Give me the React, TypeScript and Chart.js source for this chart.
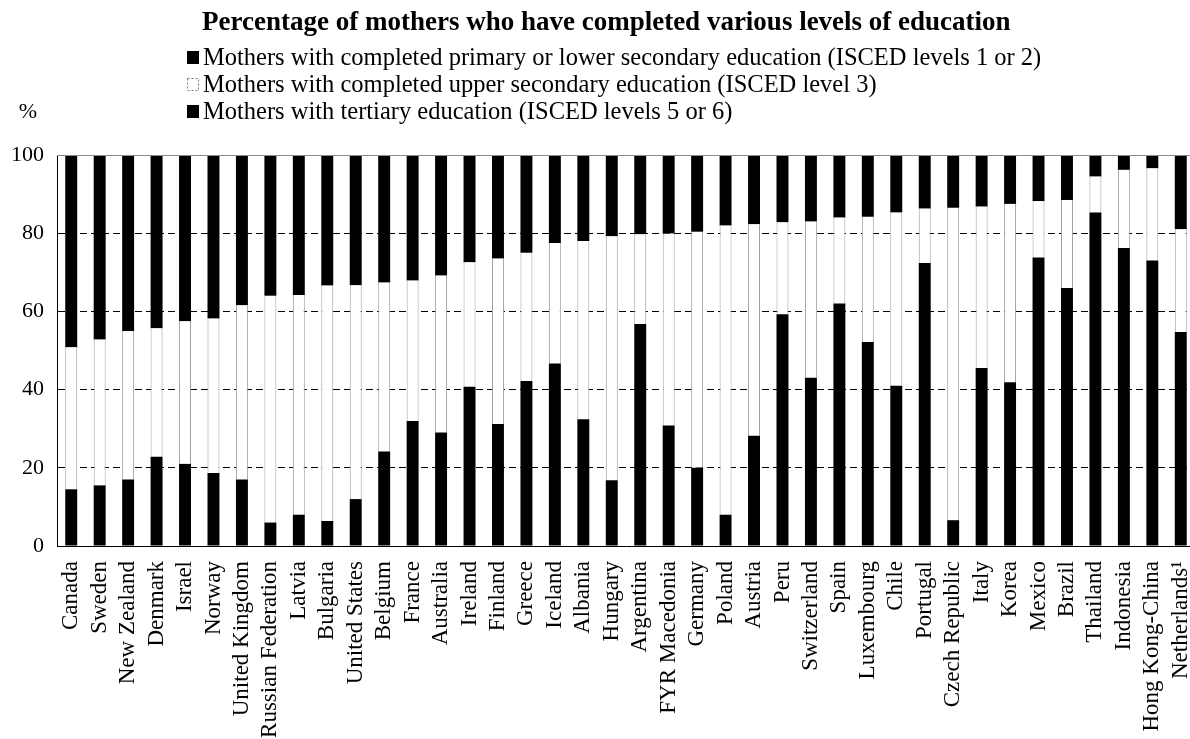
import React, { useEffect, useRef } from "react";
import { Chart, registerables } from "chart.js";

Chart.register(...registerables);

const TITLE = "Percentage of mothers who have completed various levels of education";

const categories = [
  "Canada", "Sweden", "New Zealand", "Denmark", "Israel", "Norway", "United Kingdom",
  "Russian Federation", "Latvia", "Bulgaria", "United States", "Belgium", "France",
  "Australia", "Ireland", "Finland", "Greece", "Iceland", "Albania", "Hungary",
  "Argentina", "FYR Macedonia", "Germany", "Poland", "Austria", "Peru", "Switzerland",
  "Spain", "Luxembourg", "Chile", "Portugal", "Czech Republic", "Italy", "Korea",
  "Mexico", "Brazil", "Thailand", "Indonesia", "Hong Kong-China", "Netherlands\u00B9",
];

const primaryLowerSecondary = [
  14.5, 15.5, 17, 22.8, 21, 18.7, 17, 6, 8, 6.4, 12, 24.2, 32, 29, 40.7, 31.2, 42.2,
  46.7, 32.4, 16.8, 56.8, 30.8, 20, 8, 28.2, 59.3, 43, 62, 52.2, 41, 72.4, 6.6, 45.5,
  41.9, 73.8, 66, 85.3, 76.2, 73, 54.7,
];

const upperSecondary = [
  36.3, 37.3, 38, 32.9, 36.5, 39.5, 44.6, 58, 56.2, 60.2, 54.7, 43.2, 35.9, 40.2, 31.9,
  42.3, 32.8, 30.8, 45.6, 62.4, 22.9, 49.1, 60.4, 74, 54.1, 23.5, 40, 22, 32, 44.3, 13.9,
  79.9, 41.3, 45.6, 14.4, 22.5, 9.2, 20, 23.6, 26.3,
];

const tertiary = [
  49.2, 47.2, 45, 44.3, 42.5, 41.8, 38.4, 36, 35.8, 33.4, 33.3, 32.6, 32.1, 30.8, 27.4,
  26.5, 25, 22.5, 22, 20.8, 20.3, 20.1, 19.6, 18, 17.7, 17.2, 17, 16, 15.8, 14.7, 13.7,
  13.5, 13.2, 12.5, 11.8, 11.5, 5.5, 3.8, 3.4, 19,
];

const seriesLabels = [
  "Mothers with completed primary or lower secondary education (ISCED levels 1 or 2)",
  "Mothers with completed upper secondary education (ISCED level 3)",
  "Mothers with tertiary education (ISCED levels 5 or 6)",
];

const yTickValues = [0, 20, 40, 60, 80, 100];

const SERIF = '"Liberation Serif", "Times New Roman", serif';

const headerPlugin = {
  id: "header",
  afterDraw(chart: any) {
    const ctx = chart.ctx as CanvasRenderingContext2D;
    const { left, right, top } = chart.chartArea;
    ctx.save();
    // top frame line
    ctx.strokeStyle = "#8a8a8a";
    ctx.lineWidth = 1;
    ctx.setLineDash([]);
    ctx.beginPath();
    ctx.moveTo(left, top + 0.5);
    ctx.lineTo(right, top + 0.5);
    ctx.stroke();

    ctx.fillStyle = "#000";
    ctx.textBaseline = "middle";
    ctx.textAlign = "left";
    ctx.font = `bold 27px ${SERIF}`;
    ctx.fillText(TITLE, 202, 23);

    ctx.font = `24.5px ${SERIF}`;
    const rows = [58, 85, 112];
    chart.data.datasets.forEach((ds: any, i: number) => {
      const y = rows[i];
      if (ds.backgroundColor === "#ffffff") {
        ctx.strokeStyle = "#777";
        ctx.setLineDash([2, 2]);
        ctx.strokeRect(187.5, y - 6.5, 11, 12);
        ctx.setLineDash([]);
      } else {
        ctx.fillStyle = "#000";
        ctx.fillRect(187, y - 7, 12, 13);
      }
      ctx.fillStyle = "#000";
      ctx.fillText(ds.label, 203, y + 1);
    });

    ctx.textAlign = "center";
    ctx.font = `22px ${SERIF}`;
    ctx.fillText("%", 28, 112);
    ctx.restore();
  },
};

export default function App() {
  const canvasRef = useRef<HTMLCanvasElement | null>(null);

  useEffect(() => {
    if (!canvasRef.current) return;
    const chart = new Chart(canvasRef.current, {
      type: "bar",
      data: {
        labels: categories,
        datasets: [
          {
            label: seriesLabels[0],
            data: primaryLowerSecondary,
            backgroundColor: "#000000",
            borderWidth: 0,
          },
          {
            label: seriesLabels[1],
            data: upperSecondary,
            backgroundColor: "#ffffff",
            borderColor: "#a0a0a0",
            borderWidth: { left: 1, right: 1, top: 0, bottom: 0 },
            borderSkipped: false,
          },
          {
            label: seriesLabels[2],
            data: tertiary,
            backgroundColor: "#000000",
            borderWidth: 0,
          },
        ],
      },
      options: {
        animation: false,
        responsive: true,
        maintainAspectRatio: false,
        devicePixelRatio: 1,
        layout: { padding: { left: 8, right: 5, top: 155, bottom: 0 } },
        datasets: {
          bar: { barPercentage: 0.42, categoryPercentage: 1 },
        },
        plugins: {
          legend: { display: false },
          title: { display: false },
          tooltip: { enabled: false },
        },
        scales: {
          x: {
            stacked: true,
            grid: { display: false, drawTicks: false },
            border: { display: true, color: "#000", width: 1 },
            ticks: {
              color: "#000",
              font: { family: SERIF, size: 23 },
              maxRotation: 90,
              minRotation: 90,
              autoSkip: false,
              padding: 15,
            },
            afterFit(scale: any) {
              scale.height = 193;
              scale.paddingRight = 0;
              scale.paddingLeft = 0;
            },
          },
          y: {
            stacked: true,
            min: 0,
            max: 100,
            afterBuildTicks(scale: any) {
              scale.ticks = yTickValues.map((v) => ({ value: v }));
            },
            grid: { color: "#000", lineWidth: 1, drawTicks: false },
            border: { display: true, color: "#000", width: 1, dash: [7, 4] },
            ticks: {
              color: "#000",
              font: { family: SERIF, size: 22 },
              padding: 13,
            },
            afterFit(scale: any) {
              scale.width = 49;
            },
          },
        },
      },
      plugins: [headerPlugin],
    });
    return () => chart.destroy();
  }, []);

  return (
    <div
      style={{
        position: "fixed",
        left: 0,
        top: 0,
        width: 1190,
        height: 739,
        overflow: "hidden",
        background: "#fff",
      }}
    >
      <div style={{ position: "relative", width: 1200, height: 739 }}>
        <canvas ref={canvasRef} />
      </div>
    </div>
  );
}
